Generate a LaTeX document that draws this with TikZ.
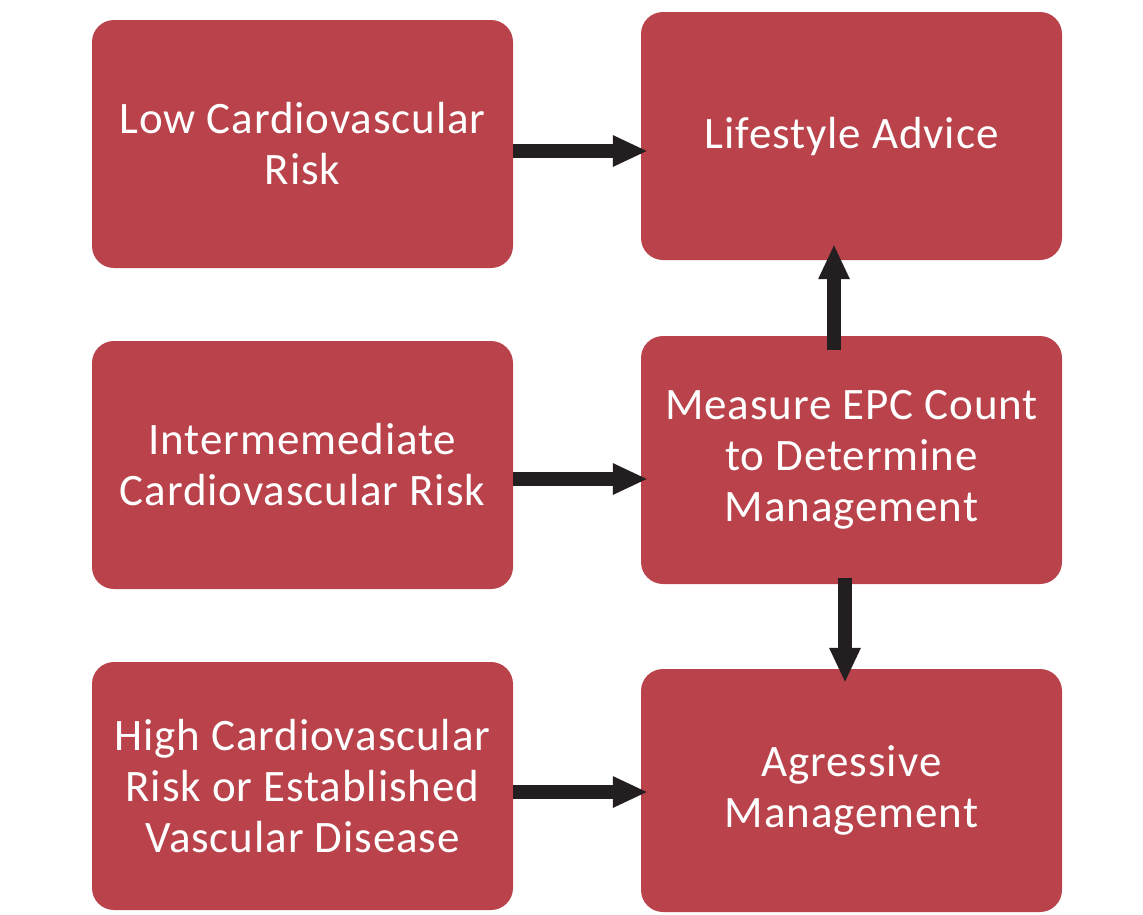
\documentclass[tikz,border=0pt]{standalone}
\usepackage{fontspec}
\setmainfont[LetterSpace=2]{Carlito}
\usetikzlibrary{arrows.meta}
\definecolor{boxred}{HTML}{B9424B}
\definecolor{arrowdark}{HTML}{231F20}
\tikzset{
  box/.style={fill=boxred, draw=none, rounded corners=22pt, minimum width=421pt, minimum height=248pt, inner sep=0pt,
    text=white, align=center, font=\fontsize{45}{51}\selectfont},
  arr/.style={draw=arrowdark, line width=14pt, -{Triangle[length=35pt,width=29pt]}}
}
\begin{document}
\begin{tikzpicture}[x=1pt,y=-1pt]
\useasboundingbox (0,0) rectangle (1143,914);
\node[box] (b1) at (302.5,144) {Low Cardiovascular\\Risk};
\node[box] (b2) at (302.5,465) {Intermemediate\\Cardiovascular Risk};
\node[box] (b3) at (302.5,786) {High Cardiovascular\\Risk or Established\\Vascular Disease};
\node[box] (r1) at (851.5,136) {Lifestyle Advice};
\node[box] (r2) at (851.5,460) {Measure EPC Count\\to Determine\\Management};
\node[box, minimum height=243pt] (r3) at (851.5,790.5) {Agressive\\Management};
\coordinate (a1) at ([yshift=-7pt]b1.east);
\coordinate (a2) at ([yshift=-14pt]b2.east);
\coordinate (a3) at ([yshift=-6pt]b3.east);
\coordinate (u1) at ([xshift=-17.5pt]r2.north);
\coordinate (d1) at ([xshift=-6.5pt]r2.south);
\draw[arr, shorten >=-7pt] (a1) -- (a1 -| r1.west);
\draw[arr, shorten >=-7pt] (a2) -- (a2 -| r2.west);
\draw[arr, shorten >=-7pt] (a3) -- (a3 -| r3.west);
\draw[arr, shorten <=-14pt, shorten >=-16pt] (u1) -- (u1 |- r1.south);
\draw[arr, shorten <=-6pt, shorten >=-14pt] (d1) -- (d1 |- r3.north);
\end{tikzpicture}
\end{document}
